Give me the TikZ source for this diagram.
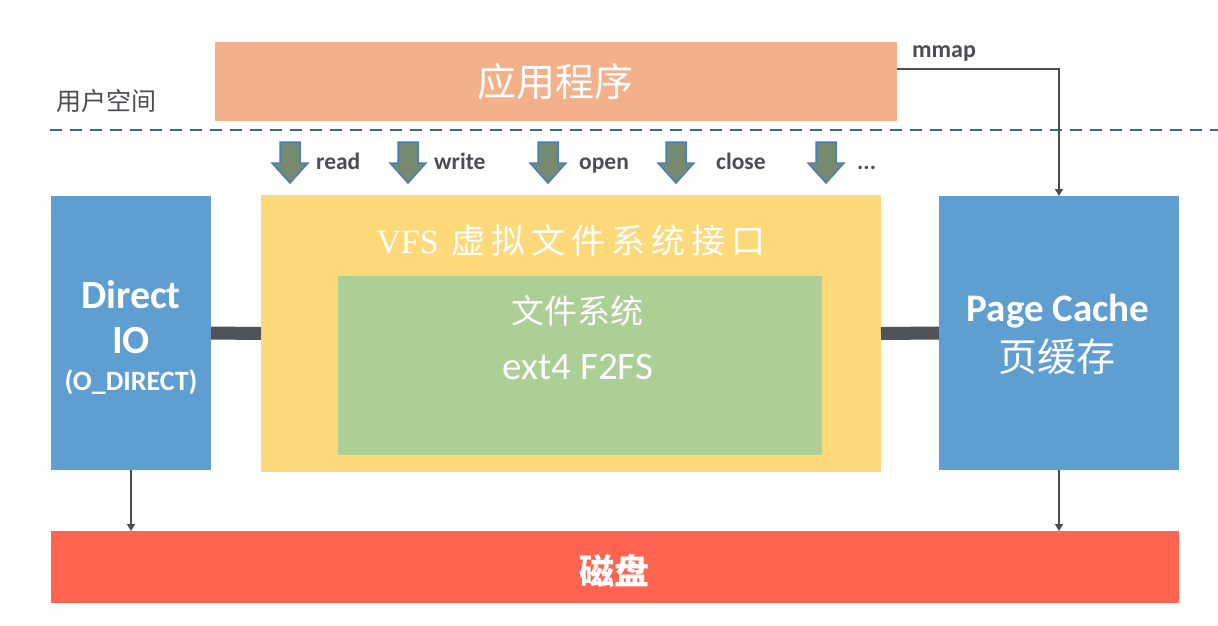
\documentclass[tikz,border=0pt]{standalone}
\usepackage{fontspec}
\setmainfont{Carlito}
\newfontfamily\cjk{Noto Sans CJK SC}
\newfontfamily\vfsfont{Liberation Serif}
\usetikzlibrary{arrows.meta}
\definecolor{appc}{RGB}{244,176,138}
\definecolor{bluec}{RGB}{95,158,209}
\definecolor{yelc}{RGB}{253,217,122}
\definecolor{grnc}{RGB}{171,207,148}
\definecolor{redc}{RGB}{255,100,80}
\definecolor{darkc}{RGB}{74,77,82}
\definecolor{barc}{RGB}{80,83,88}
\definecolor{dashc}{RGB}{68,104,140}
\definecolor{arrfill}{RGB}{118,138,112}
\definecolor{arrdraw}{RGB}{70,125,190}
\newcommand{\fs}[1]{\fontsize{#1}{#1}\selectfont}
\begin{document}
\begin{tikzpicture}[x=1pt,y=-1pt,
  box/.style={draw=none, inner sep=0pt, outer sep=0pt, anchor=north west},
  wtxt/.style={text=white, inner sep=0pt},
  dtxt/.style={text=darkc, inner sep=0pt},
  conn/.style={draw=darkc, line width=2pt, -{Triangle[width=8pt,length=7pt]}},
  barline/.style={draw=barc, line width=13pt},
  dashline/.style={draw=dashc, line width=2pt, dash pattern=on 12pt off 8pt},
  blockarrow/.style={fill=arrfill, draw=arrdraw, line width=1.5pt, line join=miter}]
\useasboundingbox[fill=white] (0,0) rectangle (1218,626);

% boxes
\node[box, fill=appc, minimum width=682pt, minimum height=79pt] (app) at (215,42) {};
\node[box, fill=bluec, minimum width=160pt, minimum height=274pt] (dio) at (51,196) {};
\node[box, fill=yelc, minimum width=620pt, minimum height=277pt] (vfs) at (261,195) {};
\node[box, fill=grnc, minimum width=484pt, minimum height=179pt] (fs) at (338,276) {};
\node[box, fill=bluec, minimum width=240pt, minimum height=274pt] (pc) at (939,196) {};
\node[box, fill=redc, minimum width=1128pt, minimum height=72pt] (disk) at (51,531) {};

% texts
\node[wtxt, font=\cjk\fs{39}] (apptxt) at (555,82) {应用程序};
\node[dtxt, font=\cjk\fs{25}] (user) at (106,101) {用户空间};
\node[wtxt, font=\bfseries\fs{40}] (dio1) at (131,295) {Direct};
\node[wtxt, font=\bfseries\fs{40}] (dio2) at (131,341) {IO};
\node[wtxt, font=\bfseries\fs{28}] (dio3) at (131,382) {(O\_DIRECT)};
\node[wtxt] (vfstxt) at (571,240) {{\vfsfont\fs{34}VFS}\hspace{13pt}{\cjk\fs{34}虚\hspace{6pt}拟\hspace{6pt}文\hspace{6pt}件\hspace{6pt}系\hspace{6pt}统\hspace{6pt}接\hspace{6pt}口}};
\node[wtxt, font=\cjk\fs{33}] (fstxt) at (577,311) {文件系统};
\node[wtxt, font=\fs{39}] (fstypes) at (578,367) {ext4 F2FS};
\node[wtxt, font=\bfseries\fs{39}] (pc1) at (1058,311) {Page Cache};
\node[wtxt, font=\cjk\fs{39}] (pc2) at (1057,357) {页缓存};
\node[wtxt, font=\cjk\bfseries\fs{35}] (disktxt) at (614,571) {磁盘};
\node[dtxt, font=\bfseries\fs{24}, anchor=base west] (mmaplbl) at (912,58) {mmap};

% user/kernel separator
\coordinate (sepL) at (50,130);
\coordinate (sepR) at (1218,130);
\draw[dashline] (sepL) -- (sepR);

% system call arrows
\foreach \cx/\lx/\lab/\nm in {290/316/read/rd, 408/434/write/wr, 548/579/open/op, 676/716/close/cl, 826/857/{...}/et}{
  \draw[blockarrow] (\cx-10,142) -- (\cx+10,142) -- (\cx+10,163) -- (\cx+18,163)
     -- (\cx,183) -- (\cx-18,163) -- (\cx-10,163) -- cycle;
  \node[dtxt, font=\bfseries\fs{23.5}, anchor=base west] (lab-\nm) at (\lx,169) {\lab};
}

% connectors
\draw[barline] (dio.east) -- (vfs.west);
\draw[barline] (vfs.east) -- (pc.west);
\draw[conn] ([yshift=-27pt]app.north east) -| (pc.north);
\draw[conn] (dio.south) -- (disk.north -| dio.south);
\draw[conn] (pc.south) -- (disk.north -| pc.south);
\end{tikzpicture}
\end{document}
